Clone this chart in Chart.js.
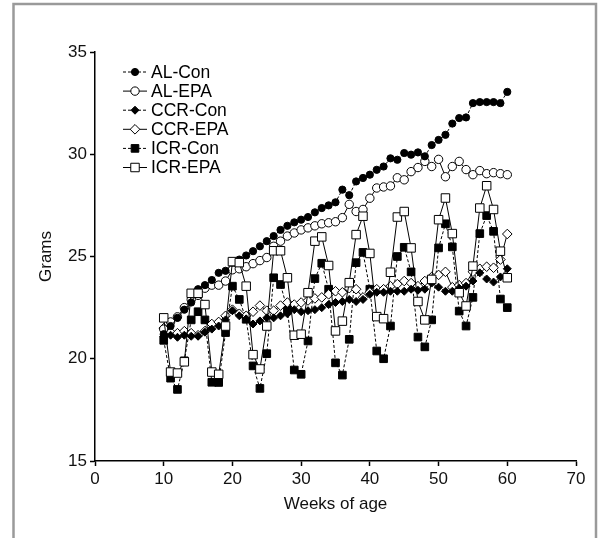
<!DOCTYPE html>
<html>
<head>
<meta charset="utf-8">
<style>
  html, body { margin: 0; padding: 0; background: #fff; }
</style>
<script src="https://cdn.jsdelivr.net/npm/chart.js@4.4.1/dist/chart.umd.min.js"></script>
</head>
<body>
<canvas id="chart" width="600" height="538"></canvas>
<script>
// weeks of age
const weeks = [10, 11, 12, 13, 14, 15, 16, 17, 18, 19, 20, 21, 22, 23, 24, 25, 26, 27, 28, 29, 30,
    31, 32, 33, 34, 35, 36, 37, 38, 39, 40, 41, 42, 43, 44, 45, 46, 47, 48, 49, 50,
    51, 52, 53, 54, 55, 56, 57, 58, 59, 60];

const alCon = [21.2, 21.6, 22.0, 22.4, 22.75, 23.4, 23.6, 23.85, 24.2, 24.3, 24.7,
    24.85, 25.05, 25.26, 25.5, 25.75, 26.0, 26.3, 26.5, 26.67, 26.8,
    26.93, 27.16, 27.37, 27.5, 27.65, 28.27, 28.0, 28.67, 28.84, 29.0,
    29.24, 29.4, 29.8, 29.73, 30.06, 29.98, 30.09, 29.9, 30.45, 30.7,
    30.95, 31.5, 31.77, 31.8, 32.5, 32.55, 32.55, 32.55, 32.5, 33.05];

const alEpa = [21.45, 21.8, 22.05, 22.5, 22.9, 23.1, 23.45, 23.6, 23.6, 23.8, 24.35,
    24.4, 24.5, 24.65, 24.8, 24.95, 25.5, 25.75, 26.0, 26.15, 26.3,
    26.4, 26.5, 26.6, 26.65, 26.7, 26.9, 27.55, 27.2, 27.3, 27.85,
    28.35, 28.4, 28.45, 28.85, 28.75, 29.15, 29.35, 29.65, 29.4, 29.75,
    28.9, 29.4, 29.65, 29.25, 29.0, 29.2, 29.05, 29.1, 29.05, 29.0];

const ccrCon = [21.1, 21.15, 21.05, 21.15, 21.1, 21.1, 21.3, 21.45, 21.6, 21.9, 22.35,
    22.1, 21.95, 21.7, 21.85, 22.0, 22.0, 22.1, 22.2, 22.4, 22.3,
    22.35, 22.4, 22.5, 22.65, 22.75, 22.8, 22.9, 22.8, 22.9, 23.15,
    23.25, 23.25, 23.3, 23.3, 23.3, 23.4, 23.35, 23.4, 23.7, 23.5,
    23.3, 23.3, 23.45, 23.55, 23.8, 24.2, 23.9, 23.75, 24.0, 24.4];

const ccrEpa = [21.5, 21.3, 21.25, 21.35, 21.25, 21.15, 21.35, 21.7, 21.8, 22.1, 22.4,
    22.2, 22.1, 22.3, 22.6, 22.35, 22.35, 22.6, 22.75, 22.65, 22.75,
    22.85, 22.95, 23.0, 23.15, 23.3, 23.25, 23.45, 23.4, 23.0, 23.25,
    23.4, 23.4, 23.55, 23.65, 23.8, 23.7, 23.55, 23.8, 24.0, 24.1,
    24.25, 23.5, 23.6, 23.7, 24.25, 24.4, 24.5, 24.45, 24.85, 26.1];

const icrCon = [20.9, 19.05, 18.5, 19.9, 21.9, 22.3, 21.9, 18.85, 18.84, 21.28, 23.55,
    22.9, 21.93, 19.65, 18.55, 20.25, 23.96, 23.63, 22.4, 19.45, 19.24,
    20.87, 23.92, 24.67, 23.4, 19.8, 19.2, 20.95, 24.7, 25.2, 23.4,
    20.38, 20.0, 21.6, 25.0, 25.45, 24.25, 21.06, 20.58, 21.9, 25.42,
    26.6, 25.47, 22.33, 21.6, 23.0, 26.12, 27.0, 26.23, 22.92, 22.5];

const icrEpa = [22.0, 19.35, 19.3, 19.85, 23.2, 23.2, 22.65, 19.35, 19.24, 21.6, 24.75,
    24.7, 23.55, 20.2, 19.5, 21.6, 25.28, 25.28, 23.96, 21.15, 21.2,
    23.23, 25.75, 25.96, 24.56, 21.36, 21.84, 23.72, 26.07, 26.97, 25.15,
    22.06, 21.96, 24.23, 26.93, 27.2, 25.42, 22.8, 21.9, 23.88, 26.8,
    27.86, 26.12, 23.23, 22.58, 24.53, 27.37, 28.46, 27.3, 25.26, 23.96];

const xTicks = [0, 10, 20, 30, 40, 50, 60, 70];
const yTicks = [15, 20, 25, 30, 35];

const seriesNames = ['AL-Con', 'AL-EPA', 'CCR-Con', 'CCR-EPA', 'ICR-Con', 'ICR-EPA'];

function points(values) {
    return weeks.map((w, i) => ({ x: w, y: values[i] }));
}

// Con = dashed line + black marker, EPA = solid line + open marker
function makeSet(label, values, shape, filled, radius, order) {
    return {
        label: label,
        data: points(values),
        order: order,
        borderColor: '#000',
        borderWidth: 1,
        borderDash: filled ? [3, 2] : [],
        pointStyle: shape,
        pointRadius: radius,
        pointBorderWidth: 1,
        pointBorderColor: '#000',
        pointBackgroundColor: filled ? '#000' : '#fff',
        tension: 0,
        fill: false
    };
}

const datasets = [
    makeSet(seriesNames[0], alCon, 'circle', true, 3.6, 1),
    makeSet(seriesNames[1], alEpa, 'circle', false, 4.2, 1),
    makeSet(seriesNames[2], ccrCon, 'rectRot', true, 4, 1),
    makeSet(seriesNames[3], ccrEpa, 'rectRot', false, 4.8, 1),
    makeSet(seriesNames[4], icrCon, 'rect', true, 5.4, 1),
    makeSet(seriesNames[5], icrEpa, 'rect', false, 6, 0)
];

const FONT = '"Liberation Sans", Arial, Helvetica, sans-serif';

// grey frame + white background
const framePlugin = {
    id: 'frame',
    beforeDraw(chart) {
        const ctx = chart.ctx;
        ctx.save();
        ctx.fillStyle = '#fff';
        ctx.fillRect(0, 0, chart.width, chart.height);
        ctx.strokeStyle = '#9a9a9a';
        ctx.lineWidth = 2.5;
        ctx.beginPath();
        ctx.moveTo(13.5, chart.height);
        ctx.lineTo(13.5, 4);
        ctx.lineTo(596, 4);
        ctx.lineTo(596, chart.height);
        ctx.stroke();
        ctx.restore();
    }
};

// legend: short line segment with marker, then label
const legendPlugin = {
    id: 'lineLegend',
    afterDraw(chart) {
        const ctx = chart.ctx;
        ctx.save();
        chart.data.datasets.forEach((ds, i) => {
            const y = 72 + i * 19.1;
            ctx.strokeStyle = '#000';
            ctx.lineWidth = 1;
            ctx.setLineDash(ds.borderDash);
            ctx.beginPath();
            ctx.moveTo(123, y);
            ctx.lineTo(147, y);
            ctx.stroke();
            ctx.setLineDash([]);
            ctx.fillStyle = ds.pointBackgroundColor;
            ctx.strokeStyle = '#000';
            ctx.lineWidth = 1;
            Chart.helpers.drawPoint(ctx, {
                pointStyle: ds.pointStyle,
                radius: ds.pointRadius,
                rotation: 0,
                borderWidth: 1
            }, 135, y);
            ctx.fillStyle = '#000';
            ctx.font = '17.5px ' + FONT;
            ctx.textBaseline = 'middle';
            ctx.textAlign = 'left';
            ctx.fillText(ds.label, 151, y + 1);
        });
        ctx.restore();
    }
};

new Chart(document.getElementById('chart'), {
    type: 'line',
    data: { datasets: datasets },
    options: {
        responsive: false,
        animation: false,
        devicePixelRatio: 1,
        layout: { padding: { left: 32, right: 24, top: 52, bottom: 19 } },
        plugins: { legend: { display: false }, tooltip: { enabled: false } },
        scales: {
            x: {
                type: 'linear',
                min: 0,
                max: 70,
                afterBuildTicks(scale) { scale.ticks = xTicks.map(v => ({ value: v })); },
                afterFit(scale) { scale.height = 58; },
                grid: { display: true, drawOnChartArea: false, drawTicks: true, tickLength: 5, tickColor: '#000', tickWidth: 1.5 },
                border: { display: true, color: '#000', width: 1.5 },
                ticks: { color: '#111', font: { family: FONT, size: 17 }, padding: 3, maxRotation: 0 },
                title: { display: true, text: 'Weeks of age', color: '#111', font: { family: FONT, size: 17 }, padding: { top: 2, bottom: 4 } }
            },
            y: {
                type: 'linear',
                min: 15,
                max: 35,
                afterBuildTicks(scale) { scale.ticks = yTicks.map(v => ({ value: v })); },
                afterFit(scale) { scale.width = 63; },
                grid: { display: true, drawOnChartArea: false, drawTicks: true, tickLength: 5, tickColor: '#000', tickWidth: 1.5 },
                border: { display: true, color: '#000', width: 1.5 },
                ticks: { color: '#111', font: { family: FONT, size: 17 }, padding: 3 },
                title: { display: true, text: 'Grams', color: '#111', font: { family: FONT, size: 17 }, padding: { top: 4, bottom: 4 } }
            }
        }
    },
    plugins: [framePlugin, legendPlugin]
});
</script>
</body>
</html>
